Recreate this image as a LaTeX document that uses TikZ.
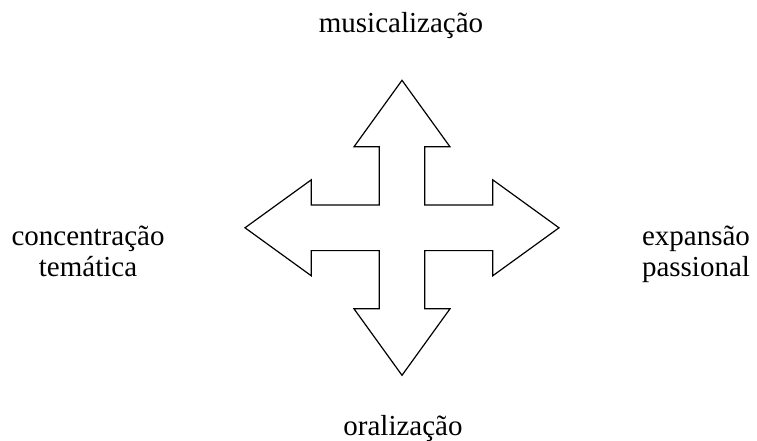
\documentclass[tikz,border=0pt]{standalone}
\usepackage{fontspec}
\setmainfont{Liberation Serif}
\begin{document}
\begin{tikzpicture}[x=1pt,y=-1pt,lbl/.style={inner sep=0pt,align=center,font=\fontsize{29}{31.7}\selectfont}]
\useasboundingbox (0,0) rectangle (757,441);
\coordinate (O) at (402,227.8);
\draw[line width=1.2pt,line join=miter](402,80.3)--(450,146.8)--(424.8,146.8)--(424.8,205)--(492.7,205)--(492.7,179.8)--(559,227.8)--(492.7,275.8)--(492.7,250.6)--(424.8,250.6)--(424.8,308.8)--(450,308.8)--(402,375.3)--(354,308.8)--(379.2,308.8)--(379.2,250.6)--(311.3,250.6)--(311.3,275.8)--(245,227.8)--(311.3,179.8)--(311.3,205)--(379.2,205)--(379.2,146.8)--(354,146.8)--cycle;
\node[lbl,anchor=base](mus) at(401,33){musicalização};
\node[lbl,anchor=base](ora) at(403,435){oralização};
\node[lbl,anchor=base](con) at(88,276.7){concentração\\temática};
\node[lbl,anchor=base](exp) at(696,276.7){expansão\\passional};
\end{tikzpicture}
\end{document}
